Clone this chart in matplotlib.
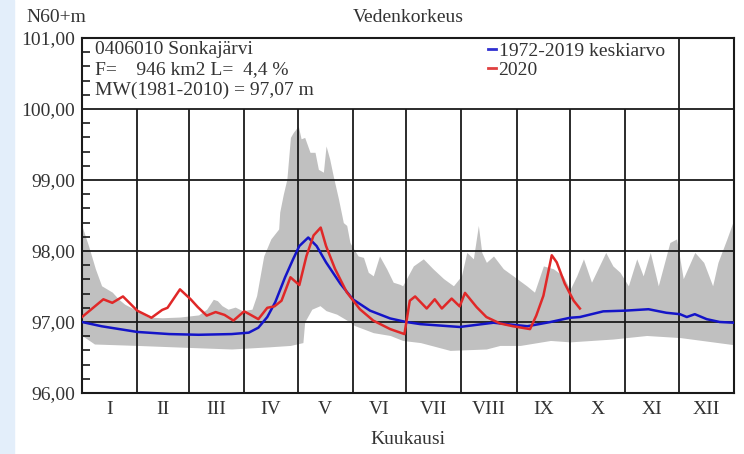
import matplotlib
matplotlib.use("Agg")
import matplotlib.pyplot as plt
from matplotlib.lines import Line2D
from matplotlib.ticker import MultipleLocator
import numpy as np

# ---------------- data (day of year 2020 -> water level, N60+m) ----------------
month_labels = ["I", "II", "III", "IV", "V", "VI", "VII", "VIII", "IX", "X", "XI", "XII"]
month_bounds = [0, 31, 60, 91, 121, 152, 182, 213, 244, 274, 305, 335, 366]

max_days = [0, 3.7, 7.5, 11, 17, 20.6, 24, 31, 37, 45, 55, 62, 65.5, 70, 73.7, 76, 78.6, 82, 86,
            90, 95.4, 98, 99, 102, 106, 110.4, 111, 113, 115, 117, 118.6, 121.4, 123, 125, 128,
            130.8, 132.7, 135.5, 137, 139, 141, 144, 146.7, 148.6, 150.4, 152, 155, 158, 160.7,
            163.5, 167, 171, 174.7, 178.5, 180, 186, 191.6, 197, 203, 208.5, 213, 216, 219.7,
            222.5, 224.4, 227, 231, 236.5, 242, 249.6, 254, 259, 264.6, 270, 274, 277.7, 281.5,
            286, 294, 298, 302, 306.7, 311.4, 315, 319, 323.5, 330, 333.8, 337.5, 344, 349,
            354, 357, 362, 366]
max_vals = [98.35, 98.07, 97.75, 97.51, 97.42, 97.32, 97.25, 97.16, 97.07, 97.06, 97.07, 97.09,
            97.10, 97.18, 97.32, 97.30, 97.23, 97.18, 97.21, 97.16, 97.18, 97.37, 97.51, 97.93,
            98.17, 98.31, 98.55, 98.80, 99.01, 99.60, 99.67, 99.76, 99.58, 99.60, 99.39, 99.39,
            99.15, 99.11, 99.48, 99.30, 99.06, 98.73, 98.40, 98.36, 98.12, 98.05, 97.93, 97.91,
            97.70, 97.65, 97.93, 97.75, 97.56, 97.53, 97.51, 97.79, 97.89, 97.75, 97.61, 97.51,
            97.65, 97.98, 97.89, 98.36, 97.98, 97.84, 97.93, 97.75, 97.65, 97.51, 97.42, 97.79,
            97.75, 97.65, 97.46, 97.65, 97.89, 97.56, 97.98, 97.79, 97.70, 97.51, 97.89, 97.65,
            97.98, 97.51, 98.12, 98.17, 97.61, 97.98, 97.84, 97.51, 97.84, 98.17, 98.45]

min_days = [0, 7, 31, 62, 84, 105, 117, 124, 125, 129, 133.6, 137, 143, 150.4, 153, 163.5, 173,
            180, 190, 206.6, 227, 234.6, 246, 263, 274, 298, 317, 336, 366]
min_vals = [96.81, 96.69, 96.67, 96.64, 96.62, 96.65, 96.67, 96.71, 97.00, 97.18, 97.23, 97.16,
            97.11, 97.00, 96.95, 96.85, 96.81, 96.74, 96.71, 96.60, 96.62, 96.67, 96.67, 96.74,
            96.72, 96.76, 96.81, 96.78, 96.68]

mean_days = [0, 11, 31, 49, 65.5, 84, 93.6, 99, 104, 108.5, 114, 118.6, 122, 127, 131.7, 137, 145,
             152, 161.7, 173, 182, 190, 212, 231, 250, 263, 274, 279.5, 292.6, 305, 318, 328,
             335.7, 339.5, 344, 350.7, 358, 366]
mean_vals = [97.00, 96.94, 96.86, 96.83, 96.82, 96.83, 96.85, 96.92, 97.07, 97.28, 97.63, 97.89,
             98.07, 98.19, 98.07, 97.84, 97.54, 97.32, 97.16, 97.05, 97.00, 96.97, 96.93, 96.99,
             96.94, 97.00, 97.06, 97.07, 97.15, 97.16, 97.18, 97.13, 97.11, 97.07, 97.11, 97.04,
             97.00, 96.99]

y2020_days = [0, 12, 17, 23, 31, 39, 45, 48, 55, 61, 65, 70, 75, 80, 85, 91, 94, 99, 104, 108,
              112, 117, 122, 126, 130, 134, 137, 142, 148.6, 156, 163.5, 173, 181, 184, 187,
              193.5, 198, 202, 207.5, 212, 215, 221.5, 227, 234.6, 242, 251.5, 255, 259, 263.7,
              266.5, 271, 276, 279.5]
y2020_vals = [97.07, 97.32, 97.27, 97.36, 97.16, 97.06, 97.17, 97.20, 97.46, 97.32, 97.21, 97.09,
              97.14, 97.10, 97.02, 97.15, 97.11, 97.04, 97.20, 97.22, 97.30, 97.63, 97.52, 97.93,
              98.22, 98.33, 98.07, 97.75, 97.42, 97.18, 97.02, 96.90, 96.83, 97.30, 97.36, 97.19,
              97.32, 97.19, 97.33, 97.22, 97.41, 97.21, 97.07, 96.98, 96.94, 96.90, 97.09, 97.37,
              97.94, 97.84, 97.54, 97.30, 97.19]

y_labels = ["96,00", "97,00", "98,00", "99,00", "100,00", "101,00"]

# ---------------- figure ----------------
plt.rcParams['font.family'] = ['Liberation Serif', 'DejaVu Serif']
FS = 14
TC = "#333333"

fig = plt.figure(figsize=(7.44, 4.54), dpi=100)
fig.patch.set_facecolor("white")
strip = plt.Rectangle((0, 0), 14 / 744, 1, transform=fig.transFigure, color="#e3eefa", zorder=0)
fig.patches.append(strip)

ax = fig.add_axes([82 / 744, 61 / 454, 652 / 744, 355 / 454])
ax.set_xlim(0, 366)
ax.set_ylim(96, 101)

grid = np.array(sorted(set(max_days) | set(min_days)))
ax.fill_between(grid, np.interp(grid, min_days, min_vals), np.interp(grid, max_days, max_vals),
                color="#c0c0c0", lw=0, zorder=1)

ax.hlines([97, 98, 99, 100], 0, 366, colors="#1a1a1a", lw=1.3, zorder=2)
ax.vlines(month_bounds[1:-1], 96, 100, colors="#1a1a1a", lw=1.3, zorder=2)
ax.vlines([month_bounds[11]], 100, 101, colors="#1a1a1a", lw=1.3, zorder=2)

ax.plot(mean_days, mean_vals, color="#1414c8", lw=1.8, zorder=4, solid_joinstyle="round")
ax.plot(y2020_days, y2020_vals, color="#e02828", lw=1.8, zorder=5, solid_joinstyle="round")

for s in ax.spines.values():
    s.set_linewidth(1.5)
    s.set_color("#1a1a1a")

ax.set_yticks([96, 97, 98, 99, 100, 101], labels=y_labels, fontsize=FS, color=TC)
ax.yaxis.set_minor_locator(MultipleLocator(0.2))
ax.tick_params(axis="y", which="major", length=0, pad=5)
ax.tick_params(axis="y", which="minor", direction="in", length=6, width=1.2, color="#1a1a1a")

mids = [(month_bounds[i] + month_bounds[i + 1]) / 2 for i in range(12)]
ax.set_xticks(mids, labels=month_labels, fontsize=FS, color=TC)
ax.tick_params(axis="x", which="major", length=0, pad=6)
ax.set_xlabel("Kuukausi", fontsize=FS, color=TC, labelpad=9)

fig.text(408 / 744, 1 - 17 / 454, "Vedenkorkeus", ha="center", va="center", fontsize=FS, color=TC)
fig.text(26 / 744, 1 - 17 / 454, "N60+m", ha="left", va="center", fontsize=FS, color=TC)

info = ["0406010 Sonkajärvi", "F=    946 km2 L=  4,4 %", "MW(1981-2010) = 97,07 m"]
for i, t in enumerate(info):
    fig.text(95 / 744, 1 - (49 + 20.5 * i) / 454, t, ha="left", va="center", fontsize=FS, color=TC)

handles = [Line2D([], [], color="#3030d0", lw=2), Line2D([], [], color="#e04040", lw=2)]
leg = ax.legend(handles, ["1972-2019 keskiarvo", "2020"], loc="upper left",
                bbox_to_anchor=((482 - 82) / 652, 1.005), frameon=False, fontsize=FS,
                handlelength=0.4, handletextpad=0.15, labelspacing=0.1, borderpad=0.3,
                borderaxespad=0.0)
for t in leg.get_texts():
    t.set_color(TC)

fig.savefig("out.png", dpi=100, facecolor="white")
